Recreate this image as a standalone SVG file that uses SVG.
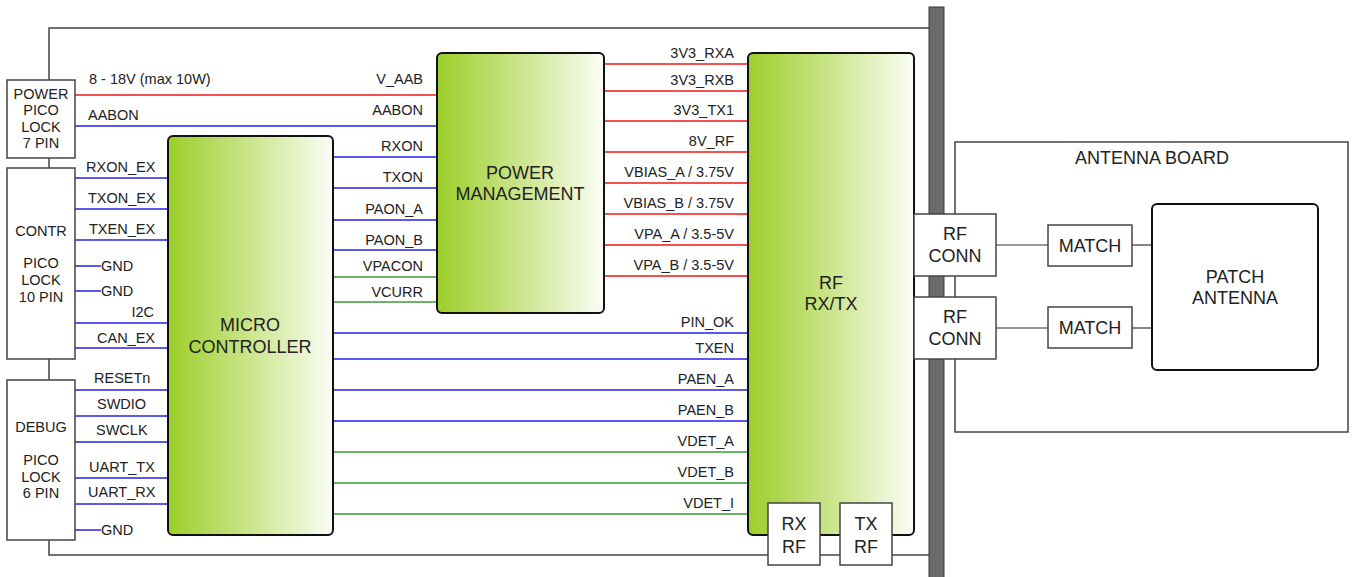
<svg xmlns="http://www.w3.org/2000/svg" width="1353" height="577" viewBox="0 0 1353 577">
<defs>
<linearGradient id="g" x1="0" y1="0" x2="1" y2="0">
<stop offset="0" stop-color="#9ccf2a"/>
<stop offset="0.45" stop-color="#c6e382"/>
<stop offset="1" stop-color="#fbfdf6"/>
</linearGradient>
<style>
text{font-family:"Liberation Sans",Arial,sans-serif;fill:#222}
.s{font-size:14.5px}
.b{font-size:18px}
.c{text-anchor:middle}
.e{text-anchor:end}
.box{fill:#fff;stroke:#444;stroke-width:1.5}
.blk{fill:url(#g);stroke:#111;stroke-width:2}
.r{stroke:#f01818;stroke-width:1.5;fill:none}
.u{stroke:#2222ee;stroke-width:1.5;fill:none}
.gr{stroke:#3a9a3a;stroke-width:1.5;fill:none}
.k{stroke:#333;stroke-width:1.2;fill:none}
</style>
</defs>
<rect width="1353" height="577" fill="#fff"/>
<g id="board">
<path d="M929 28 H49 V555 H929" fill="none" stroke="#444" stroke-width="1.5"/>
</g>
<g id="connectors">
<line class="r" x1="75" y1="95" x2="437" y2="95" stroke-width="2.5"/>
<line class="u" x1="75" y1="126" x2="437" y2="126"/>
<line class="u" x1="333" y1="157" x2="437" y2="157"/>
<line class="u" x1="333" y1="188" x2="437" y2="188"/>
<line class="u" x1="333" y1="220" x2="437" y2="220"/>
<line class="u" x1="333" y1="250" x2="437" y2="250"/>
<line class="gr" x1="333" y1="277" x2="437" y2="277"/>
<line class="gr" x1="333" y1="302" x2="437" y2="302"/>
<line class="u" x1="75" y1="178" x2="168" y2="178"/>
<line class="u" x1="75" y1="209" x2="168" y2="209"/>
<line class="u" x1="75" y1="240" x2="168" y2="240"/>
<line class="u" x1="75" y1="266" x2="101" y2="266"/>
<line class="u" x1="75" y1="291" x2="101" y2="291"/>
<line class="u" x1="75" y1="323" x2="168" y2="323" stroke-width="2"/>
<line class="u" x1="75" y1="348" x2="168" y2="348" stroke-width="2"/>
<line class="u" x1="75" y1="390" x2="168" y2="390"/>
<line class="u" x1="75" y1="416" x2="168" y2="416"/>
<line class="u" x1="75" y1="442" x2="168" y2="442"/>
<line class="u" x1="75" y1="478" x2="168" y2="478"/>
<line class="u" x1="75" y1="504" x2="168" y2="504"/>
<line class="u" x1="75" y1="530" x2="101" y2="530"/>
<line class="r" x1="604" y1="64" x2="748" y2="64"/>
<line class="r" x1="604" y1="91" x2="748" y2="91"/>
<line class="r" x1="604" y1="121" x2="748" y2="121"/>
<line class="r" x1="604" y1="152" x2="748" y2="152"/>
<line class="r" x1="604" y1="183" x2="748" y2="183"/>
<line class="r" x1="604" y1="214" x2="748" y2="214"/>
<line class="r" x1="604" y1="245" x2="748" y2="245"/>
<line class="r" x1="604" y1="276" x2="748" y2="276"/>
<line class="u" x1="333" y1="333" x2="748" y2="333"/>
<line class="u" x1="333" y1="359" x2="748" y2="359"/>
<line class="u" x1="333" y1="390" x2="748" y2="390"/>
<line class="u" x1="333" y1="421" x2="748" y2="421"/>
<line class="gr" x1="333" y1="452" x2="748" y2="452"/>
<line class="gr" x1="333" y1="483" x2="748" y2="483"/>
<line class="gr" x1="333" y1="514" x2="748" y2="514"/>
<line class="k" x1="996" y1="245" x2="1048" y2="245"/>
<line class="k" x1="1132" y1="245" x2="1152" y2="245"/>
<line class="k" x1="996" y1="328" x2="1048" y2="328"/>
<line class="k" x1="1132" y1="328" x2="1152" y2="328"/>
</g>
<g id="labels">
<text class="s" x="89" y="84">8 - 18V (max 10W)</text>
<text class="s e" x="423" y="84">V_AAB</text>
<text class="s" x="88" y="120">AABON</text>
<text class="s e" x="423" y="115">AABON</text>
<text class="s e" x="423" y="151">RXON</text>
<text class="s e" x="423" y="182">TXON</text>
<text class="s e" x="423" y="214">PAON_A</text>
<text class="s e" x="423" y="245">PAON_B</text>
<text class="s e" x="423" y="271">VPACON</text>
<text class="s e" x="423" y="297">VCURR</text>
<text class="s" x="86" y="172">RXON_EX</text>
<text class="s" x="88" y="203">TXON_EX</text>
<text class="s" x="89" y="234">TXEN_EX</text>
<text class="s" x="101" y="271">GND</text>
<text class="s" x="101" y="296">GND</text>
<text class="s e" x="154" y="317">I2C</text>
<text class="s" x="97" y="343">CAN_EX</text>
<text class="s" x="94" y="383">RESETn</text>
<text class="s" x="97" y="409">SWDIO</text>
<text class="s" x="96" y="435">SWCLK</text>
<text class="s" x="89" y="472">UART_TX</text>
<text class="s" x="88" y="497">UART_RX</text>
<text class="s" x="101" y="535">GND</text>
<text class="s e" x="734" y="58">3V3_RXA</text>
<text class="s e" x="734" y="85">3V3_RXB</text>
<text class="s e" x="734" y="115">3V3_TX1</text>
<text class="s e" x="734" y="146">8V_RF</text>
<text class="s e" x="734" y="177">VBIAS_A / 3.75V</text>
<text class="s e" x="734" y="208">VBIAS_B / 3.75V</text>
<text class="s e" x="734" y="239">VPA_A / 3.5-5V</text>
<text class="s e" x="734" y="270">VPA_B / 3.5-5V</text>
<text class="s e" x="734" y="327">PIN_OK</text>
<text class="s e" x="734" y="353">TXEN</text>
<text class="s e" x="734" y="384">PAEN_A</text>
<text class="s e" x="734" y="415">PAEN_B</text>
<text class="s e" x="734" y="446">VDET_A</text>
<text class="s e" x="734" y="477">VDET_B</text>
<text class="s e" x="734" y="508">VDET_I</text>
</g>
<g id="power-conn">
<rect class="box" x="7" y="80" width="68" height="78"/>
<text class="s c" x="41" y="99">POWER</text>
<text class="s c" x="41" y="115">PICO</text>
<text class="s c" x="41" y="132">LOCK</text>
<text class="s c" x="41" y="148">7 PIN</text>
</g>
<g id="contr-conn">
<rect class="box" x="7" y="168" width="68" height="191"/>
<text class="s c" x="41" y="236">CONTR</text>
<text class="s c" x="41" y="268">PICO</text>
<text class="s c" x="41" y="285">LOCK</text>
<text class="s c" x="41" y="302">10 PIN</text>
</g>
<g id="debug-conn">
<rect class="box" x="7" y="380" width="68" height="160"/>
<text class="s c" x="41" y="432">DEBUG</text>
<text class="s c" x="41" y="465">PICO</text>
<text class="s c" x="41" y="482">LOCK</text>
<text class="s c" x="41" y="498">6 PIN</text>
</g>
<g id="micro">
<rect class="blk" x="168" y="136" width="165" height="399" rx="5"/>
<text class="b c" x="250" y="331">MICRO</text>
<text class="b c" x="250" y="353">CONTROLLER</text>
</g>
<g id="power-mgmt">
<rect class="blk" x="437" y="53" width="167" height="260" rx="5"/>
<text class="b c" x="520" y="179">POWER</text>
<text class="b c" x="520" y="200">MANAGEMENT</text>
</g>
<g id="bar">
<rect x="929" y="7" width="15" height="572" fill="#6b6b6b" stroke="#3a3a3a" stroke-width="1"/>
</g>
<g id="rf">
<rect class="blk" x="748" y="53" width="166" height="482" rx="5"/>
<text class="b c" x="831" y="289">RF</text>
<text class="b c" x="831" y="310">RX/TX</text>
</g>
<g id="rx-rf">
<rect class="box" x="768" y="503" width="52" height="62"/>
<text class="b c" x="794" y="530">RX</text>
<text class="b c" x="794" y="553">RF</text>
</g>
<g id="tx-rf">
<rect class="box" x="840" y="503" width="52" height="62"/>
<text class="b c" x="866" y="530">TX</text>
<text class="b c" x="866" y="553">RF</text>
</g>
<g id="antenna-board">
<rect x="955" y="142" width="393" height="290" fill="none" stroke="#444" stroke-width="1.5"/>
<text class="b c" x="1152" y="164">ANTENNA BOARD</text>
</g>
<g id="rf-conn-1">
<rect class="box" x="914" y="214" width="82" height="62"/>
<text class="b c" x="955" y="240">RF</text>
<text class="b c" x="955" y="262">CONN</text>
</g>
<g id="rf-conn-2">
<rect class="box" x="914" y="297" width="82" height="62"/>
<text class="b c" x="955" y="323">RF</text>
<text class="b c" x="955" y="345">CONN</text>
</g>
<g id="match-1">
<rect class="box" x="1048" y="225" width="84" height="41"/>
<text class="b c" x="1090" y="252">MATCH</text>
</g>
<g id="match-2">
<rect class="box" x="1048" y="307" width="84" height="41"/>
<text class="b c" x="1090" y="334">MATCH</text>
</g>
<g id="patch">
<rect x="1152" y="204" width="166" height="166" rx="5" fill="#fff" stroke="#111" stroke-width="2"/>
<text class="b c" x="1235" y="283">PATCH</text>
<text class="b c" x="1235" y="304">ANTENNA</text>
</g>
</svg>
